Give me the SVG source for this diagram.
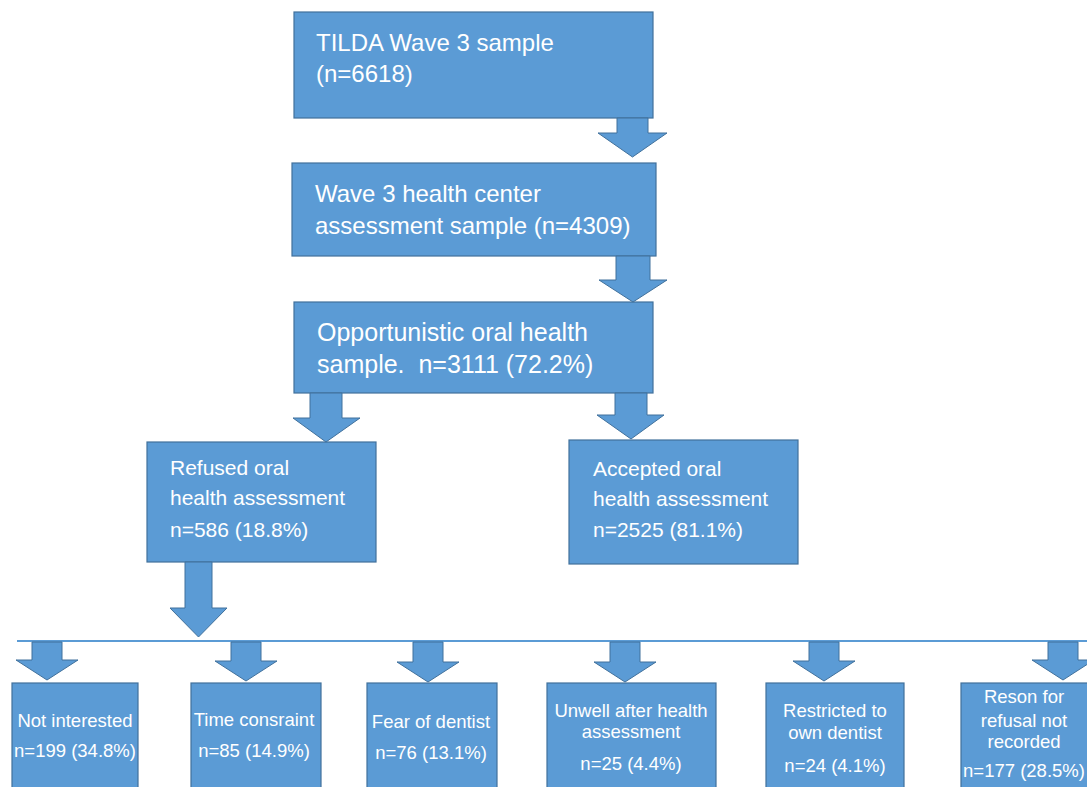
<svg xmlns="http://www.w3.org/2000/svg" width="1087" height="787" viewBox="0 0 1087 787">
<style>
.box{fill:#5B9BD5;stroke:#41719C;stroke-width:1.2}
.arr{fill:#5B9BD5;stroke:#41719C;stroke-width:1}
.t{font-family:"Liberation Sans",Arial,sans-serif;fill:#ffffff}
.t24{font-size:24px}
.t25{font-size:25px}
.t21{font-size:21px}
.t18{font-size:18.5px;text-anchor:middle}
</style>
<rect width="1087" height="787" fill="#ffffff"/>
<g id="n_tilda">
<rect class="box" x="294" y="12" width="359" height="106"/>
<text class="t t24" x="316" y="51">TILDA Wave 3 sample</text>
<text class="t t24" x="316" y="82">(n=6618)</text>
</g>
<g id="n_health_center">
<rect class="box" x="292" y="163" width="364" height="93"/>
<text class="t t24" x="315" y="202">Wave 3 health center</text>
<text class="t t24" x="315" y="234">assessment sample (n=4309)</text>
</g>
<g id="n_opportunistic">
<rect class="box" x="294" y="302" width="359" height="91"/>
<text class="t t25" x="317" y="341">Opportunistic oral health</text>
<text class="t t25" x="317" y="373" xml:space="preserve">sample.  n=3111 (72.2%)</text>
</g>
<g id="n_refused">
<rect class="box" x="147" y="442" width="229" height="120"/>
<text class="t t21" x="170" y="475">Refused oral</text>
<text class="t t21" x="170" y="505">health assessment</text>
<text class="t t21" x="170" y="537">n=586 (18.8%)</text>
</g>
<g id="n_accepted">
<rect class="box" x="569" y="440" width="229" height="124"/>
<text class="t t21" x="593" y="476">Accepted oral</text>
<text class="t t21" x="593" y="506">health assessment</text>
<text class="t t21" x="593" y="537">n=2525 (81.1%)</text>
</g>
<g id="n_not_interested">
<rect class="box" x="12" y="683" width="126" height="110"/>
<text class="t t18" x="75" y="727">Not interested</text>
<text class="t t18" x="75" y="757">n=199 (34.8%)</text>
</g>
<g id="n_time">
<rect class="box" x="191" y="683" width="130" height="110"/>
<text class="t t18" x="254" y="726">Time consraint</text>
<text class="t t18" x="254" y="757">n=85 (14.9%)</text>
</g>
<g id="n_fear">
<rect class="box" x="367" y="683" width="130" height="110"/>
<text class="t t18" x="431" y="728">Fear of dentist</text>
<text class="t t18" x="431" y="759">n=76 (13.1%)</text>
</g>
<g id="n_unwell">
<rect class="box" x="547" y="683" width="169" height="110"/>
<text class="t t18" x="631" y="717">Unwell after health</text>
<text class="t t18" x="631" y="738">assessment</text>
<text class="t t18" x="631" y="770">n=25 (4.4%)</text>
</g>
<g id="n_restricted">
<rect class="box" x="766" y="683" width="138" height="110"/>
<text class="t t18" x="835" y="717">Restricted to</text>
<text class="t t18" x="835" y="739">own dentist</text>
<text class="t t18" x="835" y="772">n=24 (4.1%)</text>
</g>
<g id="n_not_recorded">
<rect class="box" x="961" y="683" width="130" height="110"/>
<text class="t t18" x="1024" y="703">Reson for</text>
<text class="t t18" x="1024" y="727">refusal not</text>
<text class="t t18" x="1024" y="748">recorded</text>
<text class="t t18" x="1024" y="777">n=177 (28.5%)</text>
</g>
<g id="connectors">
<polygon class="arr" points="617,118 648,118 648,133 667,133 632.5,157 598,133 617,133"/>
<polygon class="arr" points="616,256 650,256 650,280 667,280 633,302 599,280 616,280"/>
<polygon class="arr" points="310,393 342,393 342,418 360,418 326,442 293,418 310,418"/>
<polygon class="arr" points="615,393 647,393 647,415 664,415 631,439 597,415 615,415"/>
<polygon class="arr" points="185,562 212,562 212,608 227,608 198.5,637 170,608 185,608"/>
<line x1="17" y1="641" x2="1087" y2="641" stroke="#5B9BD5" stroke-width="2"/>
<polygon class="arr" points="32,642 62,642 62,660 78,660 47,680 16,660 32,660"/>
<polygon class="arr" points="231,642 261,642 261,661 277,661 246,681 215,661 231,661"/>
<polygon class="arr" points="413,642 443,642 443,662 459,662 428,682 397,662 413,662"/>
<polygon class="arr" points="610,642 640,642 640,662 656,662 625,682 594,662 610,662"/>
<polygon class="arr" points="809,642 839,642 839,661 855,661 824,681 793,661 809,661"/>
<polygon class="arr" points="1048,642 1078,642 1078,660 1094,660 1063,680 1032,660 1048,660"/>
</g>
</svg>
